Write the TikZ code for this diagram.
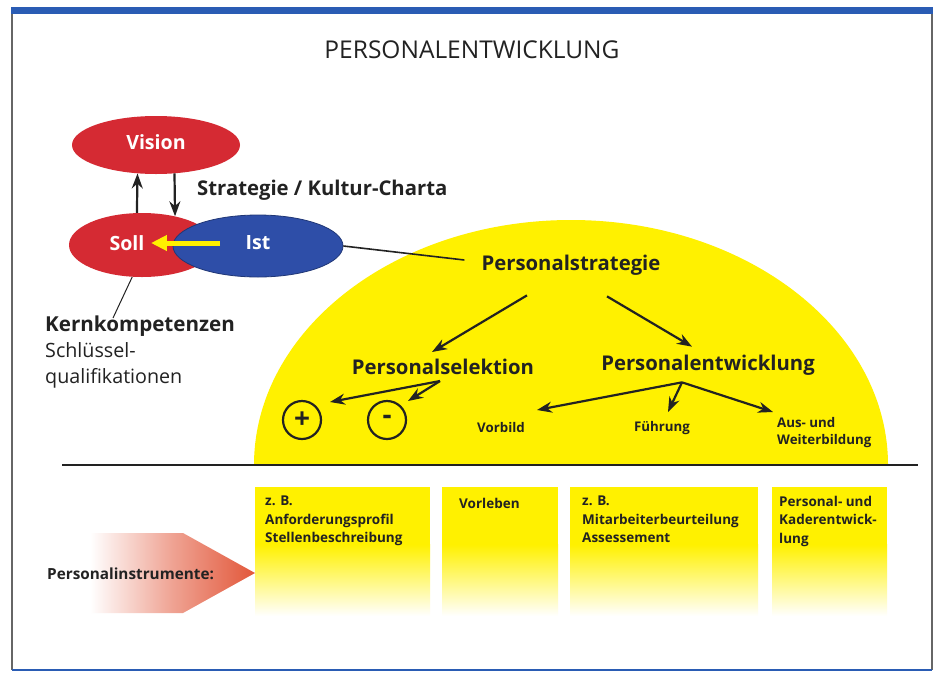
\documentclass[tikz,border=0pt]{standalone}
\usepackage{fontspec}
\setmainfont{Open Sans}
\usetikzlibrary{arrows.meta,shapes.geometric,calc}
\definecolor{redE}{HTML}{D52A33}
\definecolor{blueE}{HTML}{2E4EA8}
\definecolor{yel}{HTML}{FFF100}
\definecolor{barblue}{HTML}{2A5CB4}
\definecolor{orng}{HTML}{E2573A}
\definecolor{ink}{HTML}{222222}
\tikzset{
  ell/.style={ellipse, inner sep=0pt},
  elltext/.style={text=white, font=\bfseries\fontsize{19.6}{22}\selectfont},
  big/.style={text=ink, font=\bfseries\fontsize{20.3}{22}\selectfont, inner sep=2pt},
  small/.style={text=ink, font=\bfseries\fontsize{13.3}{17.5}\selectfont, inner sep=1pt},
  boxtext/.style={text=ink, font=\bfseries\fontsize{13.5}{18.5}\selectfont, align=left, inner sep=0pt, anchor=north west},
  arr/.style={-{Stealth[length=15pt,width=11pt]}, line width=2.2pt, draw=ink},
  pm/.style={circle, draw=ink, line width=2.2pt, minimum size=38pt, inner sep=0pt, text=ink, font=\bfseries\fontsize{28}{28}\selectfont},
}
\begin{document}
\begin{tikzpicture}[x=1pt,y=-1pt]
\useasboundingbox (0,0) rectangle (936,675);
% frame
\fill[white] (0,0) rectangle (936,675);
\draw[line width=1.2pt, black!60] (12,14) -- (12,670);
\draw[line width=1.2pt, black!60] (932,14) -- (932,670);
\draw[line width=1.6pt, barblue] (12,670) -- (932,670);
\fill[barblue] (11,7) rectangle (933,14);
% title
\node[text=ink, font=\fontsize{24.5}{28}\selectfont] (title) at (472,50) {PERSONALENTWICKLUNG};
% dome
\begin{scope}
\clip (0,0) rectangle (936,465);
\fill[yel] (571,465) ellipse [x radius=317pt, y radius=245pt];
\end{scope}
\draw[line width=2.6pt, ink] (62,465) -- (918,465);
% ellipses
\node[ell, fill=redE, minimum width=168pt, minimum height=58pt] (vision) at (156,145) {};
\node[elltext] (visiont) at (156,142) {Vision};
\node[ell, fill=redE, minimum width=146pt, minimum height=64pt] (soll) at (142,245) {};
\node[ell, fill=blueE, draw=blueE!70!black, line width=0.8pt, minimum width=170pt, minimum height=62pt] (ist) at (258,246) {};
\node[elltext] (sollt) at (127,243) {Soll};
\node[elltext] (istt) at (258,243) {Ist};
% yellow arrow
\draw[-{Triangle[length=16pt,width=15pt]}, line width=5pt, yel] ($(istt.west)+(-22,0)$) -- ($(sollt.east)+(3,0)$);
% up/down arrows
\draw[arr] (soll.99) -- (vision.-123);
\draw[arr] (vision.-57) -- (soll.41);
\node[big, anchor=west] (strat) at (195,190) {Strategie / Kultur-Charta};
% Kernkompetenzen
\node[text=ink, anchor=north west, align=left, inner sep=0pt, font=\fontsize{19.7}{26}\selectfont] (kern) at (45,316) {{\bfseries\fontsize{20.6}{26}\selectfont Kernkompetenzen}\\Schlüssel-\\qualifikationen};
\coordinate (kl) at (113,318);
\draw[line width=1pt, ink] (soll.-107) -- (kl);
% Personal strategy tree
\node[big] (pstrat) at (571,265) {Personalstrategie};
\draw[line width=1.6pt, ink] (ist.east) -- ($(pstrat.west)+(-15,-5)$);
\node[big] (psel) at (443,367) {Personalselektion};
\node[big] (pent) at (708,365) {Personalentwicklung};
\draw[arr] ($(pstrat.south)+(-44,18)$) -- ($(psel.north)+(-11,-5)$);
\draw[arr] ($(pstrat.south)+(36,19)$) -- ($(pent.north)+(-16,-6)$);
\node[pm] (plus) at (302,420) {+};
\node[pm] (minus) at (387,420) {-};
\draw[arr] ($(psel.south)+(-3,4)$) -- ($(plus)+(28,-18)$);
\draw[arr] ($(psel.south)+(-3,4)$) -- ($(minus)+(21,-19)$);
\node[small] (vorbild) at (501,428) {Vorbild};
\node[small] (fuehrung) at (662,428) {Führung};
\node[small, anchor=north west, align=left] (aus) at (776,416) {Aus- und\\Weiterbildung};
\draw[arr] ($(pent.south)+(-26,5)$) -- ($(vorbild)+(36,-18)$);
\draw[arr] ($(pent.south)+(-26,5)$) -- ($(fuehrung)+(6,-16)$);
\draw[arr] ($(pent.south)+(-26,5)$) -- ($(aus.north west)+(-3,-4)$);
% instrument boxes
\foreach \a/\b [count=\i] in {255/430, 442/558, 570/758, 772/887}{
  \fill[yel] (\a,487) rectangle (\b,545);
  \shade[top color=yel, bottom color=white] (\a,544.5) rectangle (\b,616);
}
\node[boxtext] (b1) at (265,496) {z. B.\\Anforderungsprofil\\Stellenbeschreibung};
\node[boxtext] (b2) at (459,498) {Vorleben};
\node[boxtext] (b3) at (582,496) {z. B.\\Mitarbeiterbeurteilung\\Assessement};
\node[boxtext] (b4) at (779,496) {Personal- und\\Kaderentwick-\\lung};
% Personalinstrumente arrow
\shade[left color=white, right color=orng, middle color=orng!55] (90,533) -- (183,533) -- (255,573) -- (183,613) -- (90,613) -- cycle;
\node[text=ink, font=\bfseries\fontsize{15.3}{17}\selectfont, anchor=west, inner sep=0pt] (pinst) at (47,574) {Personalinstrumente:};
\end{tikzpicture}
\end{document}
